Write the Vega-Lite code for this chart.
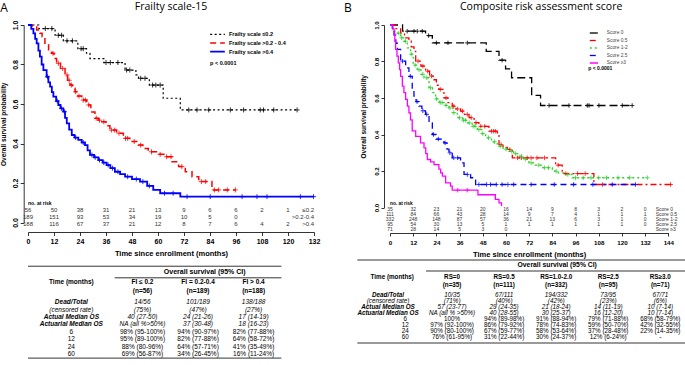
{
"$schema":"https://vega.github.io/schema/vega-lite/v6.json",
"padding":{"left":0,"top":1,"right":0,"bottom":0},
"config":{
 "font":"Liberation Sans",
 "view":{"stroke":null},
 "axis":{"grid":false,"domainColor":"#000","tickColor":"#000","labelColor":"#000","titleColor":"#000","labelFontWeight":"bold","titleFontWeight":"bold","domainWidth":0.8,"tickWidth":0.8,"labelOverlap":false,"labelFlush":false,"labelSeparation":-100},
 "title":{"font":"Open Sans","fontWeight":"normal","color":"#000"},
 "style":{"tbl":{"font":"Liberation Sans","fontSize":6.5,"baseline":"middle","align":"center"}}
},
"datasets":{
 "kmA":[
  {"g":"≤0.2","t":0,"s":1},{"g":"≤0.2","t":5,"s":0.982},{"g":"≤0.2","t":12.5,"s":0.948},{"g":"≤0.2","t":16.3,"s":0.92},{"g":"≤0.2","t":23,"s":0.88},{"g":"≤0.2","t":27,"s":0.857},{"g":"≤0.2","t":28.6,"s":0.83},{"g":"≤0.2","t":35,"s":0.81},{"g":"≤0.2","t":44.8,"s":0.772},{"g":"≤0.2","t":49.8,"s":0.747},{"g":"≤0.2","t":51,"s":0.73},{"g":"≤0.2","t":56,"s":0.696},{"g":"≤0.2","t":62.4,"s":0.629},{"g":"≤0.2","t":70.3,"s":0.57},{"g":"≤0.2","t":124.2,"s":0.57},
  {"g":">0.2-0.4","t":0,"s":1},{"g":">0.2-0.4","t":2,"s":0.99},{"g":">0.2-0.4","t":4,"s":0.975},{"g":">0.2-0.4","t":5.5,"s":0.958},{"g":">0.2-0.4","t":6.5,"s":0.94},{"g":">0.2-0.4","t":7.8,"s":0.9},{"g":">0.2-0.4","t":9.5,"s":0.875},{"g":">0.2-0.4","t":10.9,"s":0.857},{"g":">0.2-0.4","t":12,"s":0.83},{"g":">0.2-0.4","t":13.2,"s":0.806},{"g":">0.2-0.4","t":15,"s":0.78},{"g":">0.2-0.4","t":17.1,"s":0.747},{"g":">0.2-0.4","t":18.3,"s":0.72},{"g":">0.2-0.4","t":19.4,"s":0.696},{"g":">0.2-0.4","t":20.5,"s":0.68},{"g":">0.2-0.4","t":21.7,"s":0.662},{"g":">0.2-0.4","t":23,"s":0.64},{"g":">0.2-0.4","t":24.8,"s":0.62},{"g":">0.2-0.4","t":27.1,"s":0.595},{"g":">0.2-0.4","t":29,"s":0.56},{"g":">0.2-0.4","t":30.9,"s":0.528},{"g":">0.2-0.4","t":32.5,"s":0.518},{"g":">0.2-0.4","t":34,"s":0.51},{"g":">0.2-0.4","t":36,"s":0.49},{"g":">0.2-0.4","t":37.8,"s":0.468},{"g":">0.2-0.4","t":40.9,"s":0.452},{"g":">0.2-0.4","t":44,"s":0.426},{"g":">0.2-0.4","t":47,"s":0.41},{"g":">0.2-0.4","t":50.9,"s":0.392},{"g":">0.2-0.4","t":53,"s":0.375},{"g":">0.2-0.4","t":55.5,"s":0.358},{"g":">0.2-0.4","t":60,"s":0.345},{"g":">0.2-0.4","t":63.2,"s":0.333},{"g":">0.2-0.4","t":66.5,"s":0.308},{"g":">0.2-0.4","t":69.5,"s":0.283},{"g":">0.2-0.4","t":72.6,"s":0.257},{"g":">0.2-0.4","t":75.7,"s":0.232},{"g":">0.2-0.4","t":78.8,"s":0.207},{"g":">0.2-0.4","t":84.9,"s":0.165},{"g":">0.2-0.4","t":95.7,"s":0.165},
  {"g":">0.4","t":0,"s":1},{"g":">0.4","t":1.5,"s":0.98},{"g":">0.4","t":2.5,"s":0.958},{"g":">0.4","t":3.3,"s":0.93},{"g":">0.4","t":4,"s":0.907},{"g":">0.4","t":4.8,"s":0.87},{"g":">0.4","t":5.5,"s":0.84},{"g":">0.4","t":6.3,"s":0.8},{"g":">0.4","t":7.1,"s":0.772},{"g":">0.4","t":8.6,"s":0.738},{"g":">0.4","t":9.4,"s":0.71},{"g":">0.4","t":10.2,"s":0.688},{"g":">0.4","t":11,"s":0.66},{"g":">0.4","t":11.7,"s":0.637},{"g":">0.4","t":13,"s":0.615},{"g":">0.4","t":14,"s":0.595},{"g":">0.4","t":15,"s":0.578},{"g":">0.4","t":16.3,"s":0.561},{"g":">0.4","t":17.1,"s":0.53},{"g":">0.4","t":17.9,"s":0.502},{"g":">0.4","t":19,"s":0.47},{"g":">0.4","t":20.2,"s":0.443},{"g":">0.4","t":21.5,"s":0.43},{"g":">0.4","t":23.2,"s":0.418},{"g":">0.4","t":24.8,"s":0.405},{"g":">0.4","t":26.3,"s":0.392},{"g":">0.4","t":27.5,"s":0.365},{"g":">0.4","t":28.6,"s":0.342},{"g":">0.4","t":30.5,"s":0.33},{"g":">0.4","t":32.5,"s":0.316},{"g":">0.4","t":34.5,"s":0.303},{"g":">0.4","t":36.3,"s":0.291},{"g":">0.4","t":38,"s":0.275},{"g":">0.4","t":40.1,"s":0.257},{"g":">0.4","t":42.5,"s":0.245},{"g":">0.4","t":44.8,"s":0.232},{"g":">0.4","t":48,"s":0.22},{"g":">0.4","t":51.7,"s":0.207},{"g":">0.4","t":55,"s":0.185},{"g":">0.4","t":57.8,"s":0.165},{"g":">0.4","t":61,"s":0.148},{"g":">0.4","t":70.3,"s":0.131},{"g":">0.4","t":131.8,"s":0.131}
 ],
 "cenA":[
  {"g":"≤0.2","t":8,"s":0.982},{"g":"≤0.2","t":11,"s":0.982},{"g":"≤0.2","t":14,"s":0.948},{"g":"≤0.2","t":15.5,"s":0.948},{"g":"≤0.2","t":18,"s":0.92},{"g":"≤0.2","t":20.5,"s":0.92},{"g":"≤0.2","t":24.5,"s":0.88},{"g":"≤0.2","t":25.5,"s":0.88},{"g":"≤0.2","t":36,"s":0.81},{"g":"≤0.2","t":38,"s":0.81},{"g":"≤0.2","t":41.5,"s":0.81},{"g":"≤0.2","t":45.5,"s":0.772},{"g":"≤0.2","t":47,"s":0.772},{"g":"≤0.2","t":52,"s":0.73},{"g":"≤0.2","t":54,"s":0.73},{"g":"≤0.2","t":57.5,"s":0.696},{"g":"≤0.2","t":59,"s":0.696},{"g":"≤0.2","t":61,"s":0.696},{"g":"≤0.2","t":74.2,"s":0.57},{"g":"≤0.2","t":78,"s":0.57},{"g":"≤0.2","t":83.4,"s":0.57},{"g":"≤0.2","t":93.4,"s":0.57},{"g":"≤0.2","t":99.5,"s":0.57},{"g":"≤0.2","t":107.2,"s":0.57},{"g":"≤0.2","t":108.7,"s":0.57},{"g":"≤0.2","t":113.4,"s":0.57},{"g":"≤0.2","t":124.2,"s":0.57},
  {"g":">0.2-0.4","t":11.5,"s":0.857},{"g":">0.2-0.4","t":14,"s":0.806},{"g":">0.2-0.4","t":16,"s":0.78},{"g":">0.2-0.4","t":18,"s":0.747},{"g":">0.2-0.4","t":19,"s":0.72},{"g":">0.2-0.4","t":20,"s":0.696},{"g":">0.2-0.4","t":22,"s":0.662},{"g":">0.2-0.4","t":23.5,"s":0.64},{"g":">0.2-0.4","t":25.5,"s":0.62},{"g":">0.2-0.4","t":26.5,"s":0.62},{"g":">0.2-0.4","t":28,"s":0.595},{"g":">0.2-0.4","t":31.5,"s":0.528},{"g":">0.2-0.4","t":33,"s":0.518},{"g":">0.2-0.4","t":35,"s":0.51},{"g":">0.2-0.4","t":38.5,"s":0.468},{"g":">0.2-0.4","t":40,"s":0.468},{"g":">0.2-0.4","t":42,"s":0.452},{"g":">0.2-0.4","t":45,"s":0.426},{"g":">0.2-0.4","t":46,"s":0.426},{"g":">0.2-0.4","t":49,"s":0.41},{"g":">0.2-0.4","t":52,"s":0.392},{"g":">0.2-0.4","t":57,"s":0.358},{"g":">0.2-0.4","t":61,"s":0.345},{"g":">0.2-0.4","t":64,"s":0.333},{"g":">0.2-0.4","t":66,"s":0.333},{"g":">0.2-0.4","t":71,"s":0.283},{"g":">0.2-0.4","t":80,"s":0.207},{"g":">0.2-0.4","t":82,"s":0.207},{"g":">0.2-0.4","t":86,"s":0.165},{"g":">0.2-0.4","t":88,"s":0.165},{"g":">0.2-0.4","t":92,"s":0.165},{"g":">0.2-0.4","t":95.7,"s":0.165},
  {"g":">0.4","t":9,"s":0.738},{"g":">0.4","t":13.5,"s":0.615},{"g":">0.4","t":15.5,"s":0.578},{"g":">0.4","t":16.8,"s":0.561},{"g":">0.4","t":22,"s":0.43},{"g":">0.4","t":25.5,"s":0.405},{"g":">0.4","t":29.5,"s":0.342},{"g":">0.4","t":31,"s":0.33},{"g":">0.4","t":33,"s":0.316},{"g":">0.4","t":35,"s":0.303},{"g":">0.4","t":37,"s":0.291},{"g":">0.4","t":39,"s":0.275},{"g":">0.4","t":41.5,"s":0.257},{"g":">0.4","t":46,"s":0.232},{"g":">0.4","t":50,"s":0.22},{"g":">0.4","t":53,"s":0.207},{"g":">0.4","t":56,"s":0.185},{"g":">0.4","t":63,"s":0.148},{"g":">0.4","t":67,"s":0.148},{"g":">0.4","t":73.4,"s":0.131},{"g":">0.4","t":84.1,"s":0.131},{"g":">0.4","t":98.8,"s":0.131},{"g":">0.4","t":105.7,"s":0.131},{"g":">0.4","t":110.3,"s":0.131},{"g":">0.4","t":125.7,"s":0.131},{"g":">0.4","t":131.8,"s":0.131}
 ],
 "riskA":[
  {"g":"≤0.2","t":0,"n":56},{"g":"≤0.2","t":12,"n":50},{"g":"≤0.2","t":24,"n":38},{"g":"≤0.2","t":36,"n":31},{"g":"≤0.2","t":48,"n":21},{"g":"≤0.2","t":60,"n":13},{"g":"≤0.2","t":72,"n":9},{"g":"≤0.2","t":84,"n":6},{"g":"≤0.2","t":96,"n":6},{"g":"≤0.2","t":108,"n":2},{"g":"≤0.2","t":120,"n":1},
  {"g":">0.2-0.4","t":0,"n":189},{"g":">0.2-0.4","t":12,"n":151},{"g":">0.2-0.4","t":24,"n":93},{"g":">0.2-0.4","t":36,"n":53},{"g":">0.2-0.4","t":48,"n":34},{"g":">0.2-0.4","t":60,"n":19},{"g":">0.2-0.4","t":72,"n":10},{"g":">0.2-0.4","t":84,"n":5},{"g":">0.2-0.4","t":96,"n":0},
  {"g":">0.4","t":0,"n":188},{"g":">0.4","t":12,"n":116},{"g":">0.4","t":24,"n":67},{"g":">0.4","t":36,"n":37},{"g":">0.4","t":48,"n":21},{"g":">0.4","t":60,"n":12},{"g":">0.4","t":72,"n":8},{"g":">0.4","t":84,"n":7},{"g":">0.4","t":96,"n":6},{"g":">0.4","t":108,"n":4},{"g":">0.4","t":120,"n":2}
 ],
 "kmB":[
  {"g":"Score 0","t":0,"s":1},{"g":"Score 0","t":6.5,"s":0.966},{"g":"Score 0","t":18.4,"s":0.942},{"g":"Score 0","t":21.9,"s":0.902},{"g":"Score 0","t":49.8,"s":0.856},{"g":"Score 0","t":56.4,"s":0.807},{"g":"Score 0","t":59.8,"s":0.76},{"g":"Score 0","t":62.9,"s":0.711},{"g":"Score 0","t":73.3,"s":0.614},{"g":"Score 0","t":77.9,"s":0.559},{"g":"Score 0","t":125.3,"s":0.559},
  {"g":"Score 0.5","t":0,"s":1},{"g":"Score 0.5","t":3,"s":0.98},{"g":"Score 0.5","t":5.5,"s":0.955},{"g":"Score 0.5","t":7.5,"s":0.93},{"g":"Score 0.5","t":9.8,"s":0.911},{"g":"Score 0.5","t":11,"s":0.88},{"g":"Score 0.5","t":12.4,"s":0.856},{"g":"Score 0.5","t":13.3,"s":0.802},{"g":"Score 0.5","t":16,"s":0.775},{"g":"Score 0.5","t":18.4,"s":0.747},{"g":"Score 0.5","t":20.5,"s":0.72},{"g":"Score 0.5","t":22.8,"s":0.7},{"g":"Score 0.5","t":24,"s":0.67},{"g":"Score 0.5","t":25.3,"s":0.647},{"g":"Score 0.5","t":27.9,"s":0.601},{"g":"Score 0.5","t":30,"s":0.575},{"g":"Score 0.5","t":32.2,"s":0.555},{"g":"Score 0.5","t":34,"s":0.54},{"g":"Score 0.5","t":36.5,"s":0.528},{"g":"Score 0.5","t":38.5,"s":0.51},{"g":"Score 0.5","t":40.9,"s":0.492},{"g":"Score 0.5","t":43.5,"s":0.465},{"g":"Score 0.5","t":46,"s":0.445},{"g":"Score 0.5","t":51.2,"s":0.418},{"g":"Score 0.5","t":55.5,"s":0.409},{"g":"Score 0.5","t":56.4,"s":0.345},{"g":"Score 0.5","t":58.5,"s":0.33},{"g":"Score 0.5","t":60.7,"s":0.318},{"g":"Score 0.5","t":63.3,"s":0.272},{"g":"Score 0.5","t":85.7,"s":0.232},{"g":"Score 0.5","t":89.1,"s":0.186},{"g":"Score 0.5","t":105.5,"s":0.126},{"g":"Score 0.5","t":145.2,"s":0.126},
  {"g":"Score 1-2","t":0,"s":1},{"g":"Score 1-2","t":1.5,"s":0.98},{"g":"Score 1-2","t":2.5,"s":0.965},{"g":"Score 1-2","t":3.8,"s":0.955},{"g":"Score 1-2","t":5.5,"s":0.93},{"g":"Score 1-2","t":7.2,"s":0.911},{"g":"Score 1-2","t":9,"s":0.875},{"g":"Score 1-2","t":10.7,"s":0.84},{"g":"Score 1-2","t":12,"s":0.78},{"g":"Score 1-2","t":14.1,"s":0.755},{"g":"Score 1-2","t":16,"s":0.73},{"g":"Score 1-2","t":17.6,"s":0.711},{"g":"Score 1-2","t":20.2,"s":0.656},{"g":"Score 1-2","t":22,"s":0.63},{"g":"Score 1-2","t":23.6,"s":0.595},{"g":"Score 1-2","t":25.5,"s":0.575},{"g":"Score 1-2","t":28,"s":0.56},{"g":"Score 1-2","t":30.5,"s":0.546},{"g":"Score 1-2","t":32.5,"s":0.52},{"g":"Score 1-2","t":34.8,"s":0.492},{"g":"Score 1-2","t":37.5,"s":0.478},{"g":"Score 1-2","t":40,"s":0.464},{"g":"Score 1-2","t":42.5,"s":0.445},{"g":"Score 1-2","t":45.2,"s":0.427},{"g":"Score 1-2","t":47.5,"s":0.405},{"g":"Score 1-2","t":49.5,"s":0.382},{"g":"Score 1-2","t":52.5,"s":0.36},{"g":"Score 1-2","t":55.5,"s":0.336},{"g":"Score 1-2","t":58.5,"s":0.32},{"g":"Score 1-2","t":61.6,"s":0.308},{"g":"Score 1-2","t":64,"s":0.295},{"g":"Score 1-2","t":66.7,"s":0.281},{"g":"Score 1-2","t":69,"s":0.265},{"g":"Score 1-2","t":71.9,"s":0.245},{"g":"Score 1-2","t":75,"s":0.232},{"g":"Score 1-2","t":78.8,"s":0.218},{"g":"Score 1-2","t":84,"s":0.199},{"g":"Score 1-2","t":87,"s":0.19},{"g":"Score 1-2","t":90,"s":0.181},{"g":"Score 1-2","t":94.3,"s":0.163},{"g":"Score 1-2","t":133.1,"s":0.163},
  {"g":"Score 2.5","t":0,"s":1},{"g":"Score 2.5","t":1.2,"s":0.97},{"g":"Score 2.5","t":2.1,"s":0.945},{"g":"Score 2.5","t":3,"s":0.9},{"g":"Score 2.5","t":3.8,"s":0.866},{"g":"Score 2.5","t":5.5,"s":0.802},{"g":"Score 2.5","t":8.1,"s":0.765},{"g":"Score 2.5","t":9.8,"s":0.719},{"g":"Score 2.5","t":11.5,"s":0.647},{"g":"Score 2.5","t":12.4,"s":0.61},{"g":"Score 2.5","t":13.5,"s":0.58},{"g":"Score 2.5","t":15,"s":0.555},{"g":"Score 2.5","t":16.5,"s":0.53},{"g":"Score 2.5","t":18.4,"s":0.51},{"g":"Score 2.5","t":20.2,"s":0.464},{"g":"Score 2.5","t":21.9,"s":0.4},{"g":"Score 2.5","t":23.8,"s":0.375},{"g":"Score 2.5","t":26.5,"s":0.365},{"g":"Score 2.5","t":27.9,"s":0.354},{"g":"Score 2.5","t":29.5,"s":0.32},{"g":"Score 2.5","t":30.5,"s":0.3},{"g":"Score 2.5","t":32.2,"s":0.272},{"g":"Score 2.5","t":36.5,"s":0.245},{"g":"Score 2.5","t":38.3,"s":0.181},{"g":"Score 2.5","t":41.7,"s":0.163},{"g":"Score 2.5","t":44.3,"s":0.126},{"g":"Score 2.5","t":127,"s":0.126},
  {"g":"Score ≥3","t":0,"s":1},{"g":"Score ≥3","t":1.5,"s":0.977},{"g":"Score ≥3","t":2.1,"s":0.955},{"g":"Score ≥3","t":2.5,"s":0.91},{"g":"Score ≥3","t":2.9,"s":0.866},{"g":"Score ≥3","t":3.6,"s":0.83},{"g":"Score ≥3","t":4.3,"s":0.793},{"g":"Score ≥3","t":5,"s":0.755},{"g":"Score ≥3","t":5.5,"s":0.719},{"g":"Score ≥3","t":6.4,"s":0.665},{"g":"Score ≥3","t":7.2,"s":0.63},{"g":"Score ≥3","t":8.1,"s":0.592},{"g":"Score ≥3","t":9,"s":0.555},{"g":"Score ≥3","t":9.8,"s":0.519},{"g":"Score ≥3","t":10.6,"s":0.48},{"g":"Score ≥3","t":11.5,"s":0.42},{"g":"Score ≥3","t":13.3,"s":0.39},{"g":"Score ≥3","t":15.8,"s":0.354},{"g":"Score ≥3","t":17.6,"s":0.327},{"g":"Score ≥3","t":18.5,"s":0.295},{"g":"Score ≥3","t":19.3,"s":0.263},{"g":"Score ≥3","t":21,"s":0.25},{"g":"Score ≥3","t":22.8,"s":0.235},{"g":"Score ≥3","t":25.3,"s":0.21},{"g":"Score ≥3","t":26.2,"s":0.19},{"g":"Score ≥3","t":27.1,"s":0.172},{"g":"Score ≥3","t":28.8,"s":0.135},{"g":"Score ≥3","t":31.3,"s":0.117},{"g":"Score ≥3","t":32.2,"s":0.095},{"g":"Score ≥3","t":45.5,"s":0.07},{"g":"Score ≥3","t":54.5,"s":0.045},{"g":"Score ≥3","t":56.4,"s":0.025},{"g":"Score ≥3","t":57.7,"s":0.008}
 ],
 "cenB":[
  {"g":"Score 0","t":8.9,"s":0.966},{"g":"Score 0","t":12.4,"s":0.966},{"g":"Score 0","t":14.1,"s":0.966},{"g":"Score 0","t":16.7,"s":0.966},{"g":"Score 0","t":20,"s":0.942},{"g":"Score 0","t":24,"s":0.902},{"g":"Score 0","t":30,"s":0.902},{"g":"Score 0","t":40,"s":0.902},{"g":"Score 0","t":58,"s":0.807},{"g":"Score 0","t":82.3,"s":0.559},{"g":"Score 0","t":92.6,"s":0.559},{"g":"Score 0","t":102.1,"s":0.559},{"g":"Score 0","t":103,"s":0.559},{"g":"Score 0","t":108.1,"s":0.559},{"g":"Score 0","t":120.2,"s":0.559},{"g":"Score 0","t":125.3,"s":0.559},
  {"g":"Score 0.5","t":14.5,"s":0.802},{"g":"Score 0.5","t":17,"s":0.775},{"g":"Score 0.5","t":19.5,"s":0.747},{"g":"Score 0.5","t":21.5,"s":0.72},{"g":"Score 0.5","t":26,"s":0.647},{"g":"Score 0.5","t":29,"s":0.601},{"g":"Score 0.5","t":33,"s":0.555},{"g":"Score 0.5","t":35,"s":0.54},{"g":"Score 0.5","t":37.5,"s":0.528},{"g":"Score 0.5","t":40,"s":0.51},{"g":"Score 0.5","t":42,"s":0.492},{"g":"Score 0.5","t":44.5,"s":0.465},{"g":"Score 0.5","t":47,"s":0.445},{"g":"Score 0.5","t":49,"s":0.445},{"g":"Score 0.5","t":52.5,"s":0.418},{"g":"Score 0.5","t":53.5,"s":0.418},{"g":"Score 0.5","t":54.5,"s":0.418},{"g":"Score 0.5","t":57.5,"s":0.345},{"g":"Score 0.5","t":62,"s":0.318},{"g":"Score 0.5","t":66,"s":0.272},{"g":"Score 0.5","t":68,"s":0.272},{"g":"Score 0.5","t":71,"s":0.272},{"g":"Score 0.5","t":73,"s":0.272},{"g":"Score 0.5","t":76,"s":0.272},{"g":"Score 0.5","t":80,"s":0.272},{"g":"Score 0.5","t":87,"s":0.232},{"g":"Score 0.5","t":91,"s":0.186},{"g":"Score 0.5","t":97,"s":0.186},{"g":"Score 0.5","t":101,"s":0.186},{"g":"Score 0.5","t":110,"s":0.126},{"g":"Score 0.5","t":145.2,"s":0.126},
  {"g":"Score 1-2","t":4.5,"s":0.955},{"g":"Score 1-2","t":6,"s":0.93},{"g":"Score 1-2","t":8,"s":0.911},{"g":"Score 1-2","t":11,"s":0.84},{"g":"Score 1-2","t":13,"s":0.78},{"g":"Score 1-2","t":15,"s":0.755},{"g":"Score 1-2","t":17,"s":0.73},{"g":"Score 1-2","t":19,"s":0.711},{"g":"Score 1-2","t":21,"s":0.656},{"g":"Score 1-2","t":24,"s":0.595},{"g":"Score 1-2","t":26,"s":0.575},{"g":"Score 1-2","t":27,"s":0.575},{"g":"Score 1-2","t":29,"s":0.56},{"g":"Score 1-2","t":31,"s":0.546},{"g":"Score 1-2","t":33,"s":0.52},{"g":"Score 1-2","t":36,"s":0.492},{"g":"Score 1-2","t":38,"s":0.478},{"g":"Score 1-2","t":39,"s":0.478},{"g":"Score 1-2","t":41,"s":0.464},{"g":"Score 1-2","t":43,"s":0.445},{"g":"Score 1-2","t":44,"s":0.445},{"g":"Score 1-2","t":46,"s":0.427},{"g":"Score 1-2","t":48,"s":0.405},{"g":"Score 1-2","t":51,"s":0.382},{"g":"Score 1-2","t":54,"s":0.36},{"g":"Score 1-2","t":57,"s":0.336},{"g":"Score 1-2","t":60,"s":0.32},{"g":"Score 1-2","t":63,"s":0.308},{"g":"Score 1-2","t":65,"s":0.295},{"g":"Score 1-2","t":68,"s":0.281},{"g":"Score 1-2","t":70,"s":0.265},{"g":"Score 1-2","t":73,"s":0.245},{"g":"Score 1-2","t":77,"s":0.232},{"g":"Score 1-2","t":80,"s":0.218},{"g":"Score 1-2","t":82,"s":0.218},{"g":"Score 1-2","t":86,"s":0.199},{"g":"Score 1-2","t":92,"s":0.181},{"g":"Score 1-2","t":96,"s":0.163},{"g":"Score 1-2","t":100,"s":0.163},{"g":"Score 1-2","t":104,"s":0.163},{"g":"Score 1-2","t":108,"s":0.163},{"g":"Score 1-2","t":112,"s":0.163},{"g":"Score 1-2","t":118,"s":0.163},{"g":"Score 1-2","t":124,"s":0.163},{"g":"Score 1-2","t":133.1,"s":0.163},
  {"g":"Score 2.5","t":6.5,"s":0.802},{"g":"Score 2.5","t":10.5,"s":0.719},{"g":"Score 2.5","t":14,"s":0.58},{"g":"Score 2.5","t":17,"s":0.53},{"g":"Score 2.5","t":19,"s":0.51},{"g":"Score 2.5","t":22.5,"s":0.4},{"g":"Score 2.5","t":25,"s":0.375},{"g":"Score 2.5","t":28.5,"s":0.354},{"g":"Score 2.5","t":31,"s":0.3},{"g":"Score 2.5","t":33,"s":0.272},{"g":"Score 2.5","t":35,"s":0.272},{"g":"Score 2.5","t":40,"s":0.181},{"g":"Score 2.5","t":46,"s":0.126},{"g":"Score 2.5","t":50,"s":0.126},{"g":"Score 2.5","t":52,"s":0.126},{"g":"Score 2.5","t":55,"s":0.126},{"g":"Score 2.5","t":58,"s":0.126},{"g":"Score 2.5","t":61,"s":0.126},{"g":"Score 2.5","t":64,"s":0.126},{"g":"Score 2.5","t":73,"s":0.126},{"g":"Score 2.5","t":85,"s":0.126},{"g":"Score 2.5","t":95,"s":0.126},{"g":"Score 2.5","t":105,"s":0.126},{"g":"Score 2.5","t":115,"s":0.126},{"g":"Score 2.5","t":127,"s":0.126},
  {"g":"Score ≥3","t":35,"s":0.095},{"g":"Score ≥3","t":40,"s":0.095}
 ],
 "riskB":[
  {"g":"Score 0","t":0,"n":35},{"g":"Score 0","t":12,"n":32},{"g":"Score 0","t":24,"n":23},{"g":"Score 0","t":36,"n":21},{"g":"Score 0","t":48,"n":20},{"g":"Score 0","t":60,"n":16},{"g":"Score 0","t":72,"n":14},{"g":"Score 0","t":84,"n":9},{"g":"Score 0","t":96,"n":8},{"g":"Score 0","t":108,"n":3},{"g":"Score 0","t":120,"n":2},{"g":"Score 0","t":132,"n":0},
  {"g":"Score 0.5","t":0,"n":111},{"g":"Score 0.5","t":12,"n":84},{"g":"Score 0.5","t":24,"n":66},{"g":"Score 0.5","t":36,"n":43},{"g":"Score 0.5","t":48,"n":28},{"g":"Score 0.5","t":60,"n":14},{"g":"Score 0.5","t":72,"n":9},{"g":"Score 0.5","t":84,"n":7},{"g":"Score 0.5","t":96,"n":4},{"g":"Score 0.5","t":108,"n":1},{"g":"Score 0.5","t":120,"n":1},{"g":"Score 0.5","t":132,"n":1},
  {"g":"Score 1-2","t":0,"n":332},{"g":"Score 1-2","t":12,"n":248},{"g":"Score 1-2","t":24,"n":148},{"g":"Score 1-2","t":36,"n":87},{"g":"Score 1-2","t":48,"n":57},{"g":"Score 1-2","t":60,"n":36},{"g":"Score 1-2","t":72,"n":21},{"g":"Score 1-2","t":84,"n":13},{"g":"Score 1-2","t":96,"n":6},{"g":"Score 1-2","t":108,"n":3},{"g":"Score 1-2","t":120,"n":1},{"g":"Score 1-2","t":132,"n":0},
  {"g":"Score 2.5","t":0,"n":95},{"g":"Score 2.5","t":12,"n":54},{"g":"Score 2.5","t":24,"n":30},{"g":"Score 2.5","t":36,"n":13},{"g":"Score 2.5","t":48,"n":5},{"g":"Score 2.5","t":60,"n":1},{"g":"Score 2.5","t":72,"n":1},{"g":"Score 2.5","t":84,"n":1},{"g":"Score 2.5","t":96,"n":1},{"g":"Score 2.5","t":108,"n":1},{"g":"Score 2.5","t":120,"n":1},{"g":"Score 2.5","t":132,"n":0},
  {"g":"Score ≥3","t":0,"n":71},{"g":"Score ≥3","t":12,"n":28},{"g":"Score ≥3","t":24,"n":14},{"g":"Score ≥3","t":36,"n":5},{"g":"Score ≥3","t":48,"n":3},{"g":"Score ≥3","t":60,"n":0}
 ],
 "tabA":[
  {"row":"title","col":"g2","text":"Overall survival (95% CI)","kind":"title"},
  {"row":"hdr","col":"time","text":"Time (months)","kind":"head"},
  {"row":"hdr","col":"g1","text":"FI ≤ 0.2\n(n=56)","kind":"head"},
  {"row":"hdr","col":"g2","text":"FI = 0.2-0.4\n(n=189)","kind":"head"},
  {"row":"hdr","col":"g3","text":"FI > 0.4\n(n=188)","kind":"head"},
  {"row":"r1","col":"time","text":"Dead/Total","kind":"bi"},
  {"row":"r1","col":"g1","text":"14/56","kind":"it"},{"row":"r1","col":"g2","text":"101/189","kind":"it"},{"row":"r1","col":"g3","text":"138/188","kind":"it"},
  {"row":"r2","col":"time","text":"(censored rate)","kind":"it"},
  {"row":"r2","col":"g1","text":"(75%)","kind":"it"},{"row":"r2","col":"g2","text":"(47%)","kind":"it"},{"row":"r2","col":"g3","text":"(27%)","kind":"it"},
  {"row":"r3","col":"time","text":"Actual Median OS","kind":"bi"},
  {"row":"r3","col":"g1","text":"40 (27-50)","kind":"it"},{"row":"r3","col":"g2","text":"24 (21-26)","kind":"it"},{"row":"r3","col":"g3","text":"17 (14-19)","kind":"it"},
  {"row":"r4","col":"time","text":"Actuarial Median OS","kind":"bi"},
  {"row":"r4","col":"g1","text":"NA (all %>50%)","kind":"it"},{"row":"r4","col":"g2","text":"37 (30-48)","kind":"it"},{"row":"r4","col":"g3","text":"18 (16-23)","kind":"it"},
  {"row":"r5","col":"time","text":"6","kind":"plain"},
  {"row":"r5","col":"g1","text":"98% (95-100%)","kind":"plain"},{"row":"r5","col":"g2","text":"94% (90-97%)","kind":"plain"},{"row":"r5","col":"g3","text":"82% (77-88%)","kind":"plain"},
  {"row":"r6","col":"time","text":"12","kind":"plain"},
  {"row":"r6","col":"g1","text":"95% (89-100%)","kind":"plain"},{"row":"r6","col":"g2","text":"82% (77-88%)","kind":"plain"},{"row":"r6","col":"g3","text":"64% (58-72%)","kind":"plain"},
  {"row":"r7","col":"time","text":"24","kind":"plain"},
  {"row":"r7","col":"g1","text":"88% (80-96%)","kind":"plain"},{"row":"r7","col":"g2","text":"64% (57-71%)","kind":"plain"},{"row":"r7","col":"g3","text":"41% (35-49%)","kind":"plain"},
  {"row":"r8","col":"time","text":"60","kind":"plain"},
  {"row":"r8","col":"g1","text":"69% (56-87%)","kind":"plain"},{"row":"r8","col":"g2","text":"34% (26-45%)","kind":"plain"},{"row":"r8","col":"g3","text":"16% (11-24%)","kind":"plain"}
 ],
 "rulesA":[{"row":"s0","edge":"top"},{"row":"s1","edge":"mid","c1":"g1","c2":"g3"},{"row":"r8","edge":"bottom"}],
 "tabB":[
  {"row":"title","col":"g3","text":"Overall survival (95% CI)","kind":"title"},
  {"row":"hdr","col":"time","text":"Time (months)","kind":"head"},
  {"row":"hdr","col":"g1","text":"RS=0\n(n=35)","kind":"head"},
  {"row":"hdr","col":"g2","text":"RS=0.5\n(n=111)","kind":"head"},
  {"row":"hdr","col":"g3","text":"RS=1.0-2.0\n(n=332)","kind":"head"},
  {"row":"hdr","col":"g4","text":"RS=2.5\n(n=95)","kind":"head"},
  {"row":"hdr","col":"g5","text":"RS≥3.0\n(n=71)","kind":"head"},
  {"row":"r1","col":"time","text":"Dead/Total","kind":"bi"},
  {"row":"r1","col":"g1","text":"10/35","kind":"it"},{"row":"r1","col":"g2","text":"67/111","kind":"it"},{"row":"r1","col":"g3","text":"194/332","kind":"it"},{"row":"r1","col":"g4","text":"73/95","kind":"it"},{"row":"r1","col":"g5","text":"67/71","kind":"it"},
  {"row":"r2","col":"time","text":"(censored rate)","kind":"it"},
  {"row":"r2","col":"g1","text":"(71%)","kind":"it"},{"row":"r2","col":"g2","text":"(40%)","kind":"it"},{"row":"r2","col":"g3","text":"(42%)","kind":"it"},{"row":"r2","col":"g4","text":"(23%)","kind":"it"},{"row":"r2","col":"g5","text":"(6%)","kind":"it"},
  {"row":"r3","col":"time","text":"Actual Median OS","kind":"bi"},
  {"row":"r3","col":"g1","text":"57 (23-77)","kind":"it"},{"row":"r3","col":"g2","text":"29 (24-35)","kind":"it"},{"row":"r3","col":"g3","text":"21 (18-24)","kind":"it"},{"row":"r3","col":"g4","text":"14 (11-19)","kind":"it"},{"row":"r3","col":"g5","text":"10 (7-14)","kind":"it"},
  {"row":"r4","col":"time","text":"Actuarial Median OS","kind":"bi"},
  {"row":"r4","col":"g1","text":"NA (all % >50%)","kind":"it"},{"row":"r4","col":"g2","text":"40 (28-55)","kind":"it"},{"row":"r4","col":"g3","text":"30 (25-37)","kind":"it"},{"row":"r4","col":"g4","text":"16 (12-20)","kind":"it"},{"row":"r4","col":"g5","text":"10 (7-14)","kind":"it"},
  {"row":"r5","col":"time","text":"6","kind":"plain"},
  {"row":"r5","col":"g1","text":"100%","kind":"plain"},{"row":"r5","col":"g2","text":"94% (89-98%)","kind":"plain"},{"row":"r5","col":"g3","text":"91% (88-94%)","kind":"plain"},{"row":"r5","col":"g4","text":"79% (71-88%)","kind":"plain"},{"row":"r5","col":"g5","text":"68% (58-79%)","kind":"plain"},
  {"row":"r6","col":"time","text":"12","kind":"plain"},
  {"row":"r6","col":"g1","text":"97% (92-100%)","kind":"plain"},{"row":"r6","col":"g2","text":"86% (79-92%)","kind":"plain"},{"row":"r6","col":"g3","text":"78% (74-83%)","kind":"plain"},{"row":"r6","col":"g4","text":"59% (50-70%)","kind":"plain"},{"row":"r6","col":"g5","text":"42% (32-55%)","kind":"plain"},
  {"row":"r7","col":"time","text":"24","kind":"plain"},
  {"row":"r7","col":"g1","text":"90% (80-100%)","kind":"plain"},{"row":"r7","col":"g2","text":"67% (59-77%)","kind":"plain"},{"row":"r7","col":"g3","text":"58% (53-64%)","kind":"plain"},{"row":"r7","col":"g4","text":"37% (28-48%)","kind":"plain"},{"row":"r7","col":"g5","text":"22% (14-35%)","kind":"plain"},
  {"row":"r8","col":"time","text":"60","kind":"plain"},
  {"row":"r8","col":"g1","text":"76% (61-95%)","kind":"plain"},{"row":"r8","col":"g2","text":"31% (22-44%)","kind":"plain"},{"row":"r8","col":"g3","text":"30% (24-37%)","kind":"plain"},{"row":"r8","col":"g4","text":"12% (6-24%)","kind":"plain"},{"row":"r8","col":"g5","text":"-","kind":"plain"}
 ],
 "rulesB":[{"row":"title","edge":"top","c1":"time","c2":"g5"},{"row":"s1","edge":"mid","c1":"g1","c2":"g5"},{"row":"r8","edge":"bottom","c1":"time","c2":"g5"}]
},
"spacing":23,
"resolve":{"scale":{"color":"independent","strokeDash":"independent","strokeWidth":"independent","x":"independent"}},
"hconcat":[
 {
  "title":{"text":"A","anchor":"start","fontSize":12,"offset":0,"dy":13},
  "spacing":4,
  "vconcat":[
   {
    "width":286,"height":197.5,
    "title":{"text":"Frailty scale-15","fontSize":10.5,"offset":8,"anchor":"middle"},
    "layer":[
     {"layer":[
      {"data":{"name":"kmA"},"mark":{"type":"line","interpolate":"step-after"},
       "encoding":{
        "x":{"field":"t","type":"quantitative","scale":{"domain":[0,132],"nice":false,"zero":false},
             "axis":{"values":[0,12,24,36,48,60,72,84,96,108,120,132],"format":"d","labelOverlap":false,"labelSeparation":-100,"labelFlush":false,"labelFontSize":7,"labelPadding":2,"tickSize":3.5,"offset":9.5,"title":"Time since enrollment (months)","titleFontSize":7.5,"titlePadding":5}},
        "y":{"field":"s","type":"quantitative","scale":{"domain":[0,1],"nice":false},
             "axis":{"values":[0,0.2,0.4,0.6,0.8,1],"format":".1f","labelOverlap":false,"labelSeparation":-100,"labelFlush":false,"labelAngle":-90,"labelFontSize":7,"labelPadding":2,"tickSize":3.5,"offset":4.3,"title":"Overall survival probability","titleFontSize":6.5,"titlePadding":5}},
        "color":{"field":"g","type":"nominal","scale":{"domain":["≤0.2",">0.2-0.4",">0.4"],"range":["#000000","#ff0000","#0000ff"]},
             "legend":{"title":null,"orient":"none","direction":"vertical","legendX":185,"legendY":4.8,"symbolType":"M-2.1,0H2.1","symbolSize":49,"symbolStrokeWidth":1.5,"symbolFillColor":"transparent","labelFontSize":5.5,"labelFontWeight":"bold","labelOffset":7,"rowPadding":0.7,"padding":0,"labelExpr":"'Frailty scale ' + (datum.label == '>0.2-0.4' ? '>0.2 - 0.4' : datum.label)"}},
        "strokeDash":{"field":"g","type":"nominal","scale":{"domain":["≤0.2",">0.2-0.4",">0.4"],"range":[[2,2.5],[6,4],[1,0]]},
             "legend":{"title":null,"orient":"none","direction":"vertical","legendX":185,"legendY":4.8,"symbolType":"M-2.1,0H2.1","symbolSize":49,"symbolStrokeWidth":1.5,"symbolFillColor":"transparent","labelFontSize":5.5,"labelFontWeight":"bold","labelOffset":7,"rowPadding":0.7,"padding":0,"labelExpr":"'Frailty scale ' + (datum.label == '>0.2-0.4' ? '>0.2 - 0.4' : datum.label)"}},
        "strokeWidth":{"field":"g","type":"nominal","scale":{"domain":["≤0.2",">0.2-0.4",">0.4"],"range":[1.2,1.8,1.3]},"legend":null}
       }},
      {"data":{"name":"cenA"},"mark":{"type":"point","shape":"M-1,0H1M0,-1V1","filled":false,"size":25,"strokeWidth":0.8,"opacity":1},
       "encoding":{
        "x":{"field":"t","type":"quantitative","axis":{"values":[0,12,24,36,48,60,72,84,96,108,120,132],"format":"d","labelOverlap":false,"labelSeparation":-100,"labelFlush":false,"labelFontSize":7,"labelPadding":2,"tickSize":3.5,"offset":9.5,"title":"Time since enrollment (months)","titleFontSize":7.5,"titlePadding":5}},
        "y":{"field":"s","type":"quantitative","axis":{"values":[0,0.2,0.4,0.6,0.8,1],"format":".1f","labelOverlap":false,"labelSeparation":-100,"labelFlush":false,"labelAngle":-90,"labelFontSize":7,"labelPadding":2,"tickSize":3.5,"offset":4.3,"title":"Overall survival probability","titleFontSize":6.5,"titlePadding":5}},
        "color":{"field":"g","type":"nominal","legend":null}}},
      {"data":{"values":[{"p":"p < 0.0001"}]},"mark":{"type":"text","align":"left","baseline":"middle","fontSize":5.5,"fontWeight":"bold"},
       "encoding":{
        "x":{"datum":84,"type":"quantitative","axis":{"values":[0,12,24,36,48,60,72,84,96,108,120,132],"format":"d","labelOverlap":false,"labelSeparation":-100,"labelFlush":false,"labelFontSize":7,"labelPadding":2,"tickSize":3.5,"offset":9.5,"title":"Time since enrollment (months)","titleFontSize":7.5,"titlePadding":5}},
        "y":{"datum":0.808,"type":"quantitative","axis":{"values":[0,0.2,0.4,0.6,0.8,1],"format":".1f","labelOverlap":false,"labelSeparation":-100,"labelFlush":false,"labelAngle":-90,"labelFontSize":7,"labelPadding":2,"tickSize":3.5,"offset":4.3,"title":"Overall survival probability","titleFontSize":6.5,"titlePadding":5}},
        "text":{"field":"p"}}}
     ]},
     {"layer":[
      {"data":{"name":"riskA"},"mark":{"type":"text","fontSize":6,"color":"#333","baseline":"middle"},
       "encoding":{"x":{"field":"t","type":"quantitative","axis":{"values":[0,12,24,36,48,60,72,84,96,108,120,132],"format":"d","labelOverlap":false,"labelSeparation":-100,"labelFlush":false,"labelFontSize":7,"labelPadding":2,"tickSize":3.5,"offset":9.5,"title":"Time since enrollment (months)","titleFontSize":7.5,"titlePadding":5}},
        "y":{"field":"g","type":"ordinal","scale":{"type":"point","domain":["hdr","≤0.2",">0.2-0.4",">0.4"],"range":[177.7,199.3],"padding":0},"axis":null},"text":{"field":"n"}}},
      {"data":{"name":"riskA"},"transform":[{"filter":"datum.t == 0"}],"mark":{"type":"text","fontSize":6,"color":"#333","align":"right","baseline":"middle"},
       "encoding":{"x":{"datum":132,"type":"quantitative","axis":{"values":[0,12,24,36,48,60,72,84,96,108,120,132],"format":"d","labelOverlap":false,"labelSeparation":-100,"labelFlush":false,"labelFontSize":7,"labelPadding":2,"tickSize":3.5,"offset":9.5,"title":"Time since enrollment (months)","titleFontSize":7.5,"titlePadding":5}},"y":{"field":"g","type":"ordinal","axis":null},"text":{"field":"g"}}},
      {"data":{"values":[{"h":"no. at risk"}]},"mark":{"type":"text","fontSize":5,"fontWeight":"bold","align":"left","baseline":"middle"},
       "encoding":{"x":{"datum":0,"type":"quantitative","axis":{"values":[0,12,24,36,48,60,72,84,96,108,120,132],"format":"d","labelOverlap":false,"labelSeparation":-100,"labelFlush":false,"labelFontSize":7,"labelPadding":2,"tickSize":3.5,"offset":9.5,"title":"Time since enrollment (months)","titleFontSize":7.5,"titlePadding":5}},"y":{"datum":"hdr","type":"ordinal","axis":null},"text":{"field":"h"}}}
     ]}
    ],
    "resolve":{"scale":{"y":"independent"}}
   },
   {
    "width":253.4,"height":97.1,
    "data":{"name":"tabA"},
    "layer":[
     {"data":{"name":"rulesA"},"transform":[{"filter":"datum.edge == 'top'"}],"mark":{"type":"rule","strokeWidth":0.8,"color":"#000"},
      "encoding":{"y":{"field":"row","type":"nominal","bandPosition":0.7,"scale":{"type":"band","domain":["s0","title","s1","hdr","s2","r1","r2","r3","r4","r5","r6","r7","r8"],"paddingInner":0,"paddingOuter":0},"axis":null}}},
     {"data":{"name":"rulesA"},"transform":[{"filter":"datum.edge == 'mid'"}],"mark":{"type":"rule","strokeWidth":0.8,"color":"#000"},
      "encoding":{"y":{"field":"row","type":"nominal","bandPosition":0.25,"axis":null},
        "x":{"field":"c1","type":"nominal","bandPosition":0,"scale":{"type":"band","domain":["time","g1","g2","g3"],"paddingInner":0,"paddingOuter":0.28,"align":1},"axis":null},
        "x2":{"field":"c2","bandPosition":1}}},
     {"data":{"name":"rulesA"},"transform":[{"filter":"datum.edge == 'bottom'"}],"mark":{"type":"rule","strokeWidth":0.8,"color":"#000"},
      "encoding":{"y":{"field":"row","type":"nominal","bandPosition":1,"axis":null}}},
     {"transform":[{"filter":"datum.kind == 'title'"}],"mark":{"type":"text","style":"tbl","fontWeight":"bold","fontSize":7},
      "encoding":{"x":{"field":"col","type":"nominal","bandPosition":0.62,"axis":null},"y":{"field":"row","type":"nominal","bandPosition":0.5,"axis":null},"text":{"field":"text"}}},
     {"transform":[{"filter":"datum.kind == 'head' && datum.col != 'time'"}],"mark":{"type":"text","style":"tbl","fontWeight":"bold","lineBreak":"\n","lineHeight":9,"dy":-4.9},
      "encoding":{"x":{"field":"col","type":"nominal","bandPosition":0.5,"axis":null},"y":{"field":"row","type":"nominal","bandPosition":0.5,"axis":null},"text":{"field":"text"}}},
     {"transform":[{"filter":"datum.kind == 'head' && datum.col == 'time'"}],"mark":{"type":"text","style":"tbl","fontWeight":"bold","dy":-4.9},
      "encoding":{"x":{"field":"col","type":"nominal","bandPosition":0.22,"axis":null},"y":{"field":"row","type":"nominal","bandPosition":0.5,"axis":null},"text":{"field":"text"}}},
     {"transform":[{"filter":"datum.kind == 'bi'"}],"mark":{"type":"text","style":"tbl","fontWeight":"bold","fontStyle":"italic"},
      "encoding":{"x":{"field":"col","type":"nominal","bandPosition":0.22,"axis":null},"y":{"field":"row","type":"nominal","bandPosition":0.5,"axis":null},"text":{"field":"text"}}},
     {"transform":[{"filter":"datum.kind == 'it' && datum.col == 'time'"}],"mark":{"type":"text","style":"tbl","fontStyle":"italic"},
      "encoding":{"x":{"field":"col","type":"nominal","bandPosition":0.22,"axis":null},"y":{"field":"row","type":"nominal","bandPosition":0.5,"axis":null},"text":{"field":"text"}}},
     {"transform":[{"filter":"datum.kind == 'it' && datum.col != 'time'"}],"mark":{"type":"text","style":"tbl","fontStyle":"italic"},
      "encoding":{"x":{"field":"col","type":"nominal","bandPosition":0.5,"axis":null},"y":{"field":"row","type":"nominal","bandPosition":0.5,"axis":null},"text":{"field":"text"}}},
     {"transform":[{"filter":"datum.kind == 'plain' && datum.col == 'time'"}],"mark":{"type":"text","style":"tbl"},
      "encoding":{"x":{"field":"col","type":"nominal","bandPosition":0.22,"axis":null},"y":{"field":"row","type":"nominal","bandPosition":0.5,"axis":null},"text":{"field":"text"}}},
     {"transform":[{"filter":"datum.kind == 'plain' && datum.col != 'time'"}],"mark":{"type":"text","style":"tbl"},
      "encoding":{"x":{"field":"col","type":"nominal","bandPosition":0.5,"axis":null},"y":{"field":"row","type":"nominal","bandPosition":0.5,"axis":null},"text":{"field":"text"}}}
    ]
   }
  ]
 },
 {
  "title":{"text":"B","anchor":"start","fontSize":12,"offset":0,"dy":13,"dx":-13},
  "spacing":1,
  "vconcat":[
   {
    "width":278.3,"height":182.5,
    "title":{"text":"Composite risk assessment score","fontSize":10.5,"offset":8,"anchor":"middle","dx":12},
    "layer":[
     {"layer":[
      {"data":{"name":"kmB"},"mark":{"type":"line","interpolate":"step-after"},
       "encoding":{
        "x":{"field":"t","type":"quantitative","scale":{"domain":[0,144],"nice":false,"zero":false},
             "axis":{"values":[0,12,24,36,48,60,72,84,96,108,120,132,144],"format":"d","labelOverlap":false,"labelSeparation":-100,"labelFlush":false,"labelFontSize":6.2,"labelPadding":3.5,"tickSize":3,"offset":25.5,"title":"Time since enrollment (months)","titleFontSize":7.5,"titlePadding":4.5}},
        "y":{"field":"s","type":"quantitative","scale":{"domain":[0,1],"nice":false},
             "axis":{"values":[0,0.2,0.4,0.6,0.8,1],"format":".1f","labelOverlap":false,"labelSeparation":-100,"labelFlush":false,"labelAngle":-90,"labelFontSize":6.2,"labelPadding":2,"tickSize":3,"offset":6,"title":"Overall survival probability","titleFontSize":6.5,"titlePadding":7}},
        "color":{"field":"g","type":"nominal","scale":{"domain":["Score 0","Score 0.5","Score 1-2","Score 2.5","Score ≥3"],"range":["#000000","#ff0000","#2fd12f","#0000ff","#ff00ff"]},
             "legend":{"title":null,"orient":"none","direction":"vertical","legendX":200.4,"legendY":4.5,"symbolType":"M-1.5,0H1.5","symbolSize":30,"symbolStrokeWidth":1.5,"symbolFillColor":"transparent","labelFontSize":4.8,"labelColor":"#444","labelOffset":9.4,"rowPadding":0.5,"padding":0}},
        "strokeDash":{"field":"g","type":"nominal","scale":{"domain":["Score 0","Score 0.5","Score 1-2","Score 2.5","Score ≥3"],"range":[[8,4],[6,3,2,3],[2,3],[6,4],[1,0]]},
             "legend":{"title":null,"orient":"none","direction":"vertical","legendX":200.4,"legendY":4.5,"symbolType":"M-1.5,0H1.5","symbolSize":30,"symbolStrokeWidth":1.5,"symbolFillColor":"transparent","labelFontSize":4.8,"labelColor":"#444","labelOffset":9.4,"rowPadding":0.5,"padding":0}},
        "strokeWidth":{"field":"g","type":"nominal","scale":{"domain":["Score 0","Score 0.5","Score 1-2","Score 2.5","Score ≥3"],"range":[1.3,1.3,2,1.5,1.8]},"legend":null}
       }},
      {"data":{"name":"cenB"},"mark":{"type":"point","shape":"M-1,0H1M0,-1V1","filled":false,"size":20,"strokeWidth":0.8,"opacity":1},
       "encoding":{
        "x":{"field":"t","type":"quantitative","axis":{"values":[0,12,24,36,48,60,72,84,96,108,120,132,144],"format":"d","labelOverlap":false,"labelSeparation":-100,"labelFlush":false,"labelFontSize":6.2,"labelPadding":3.5,"tickSize":3,"offset":25.5,"title":"Time since enrollment (months)","titleFontSize":7.5,"titlePadding":4.5}},
        "y":{"field":"s","type":"quantitative","axis":{"values":[0,0.2,0.4,0.6,0.8,1],"format":".1f","labelOverlap":false,"labelSeparation":-100,"labelFlush":false,"labelAngle":-90,"labelFontSize":6.2,"labelPadding":2,"tickSize":3,"offset":6,"title":"Overall survival probability","titleFontSize":6.5,"titlePadding":7}},
        "color":{"field":"g","type":"nominal","legend":null}}},
      {"data":{"values":[{"p":"p < 0.0001"}]},"mark":{"type":"text","align":"left","baseline":"middle","fontSize":5,"fontWeight":"bold"},
       "encoding":{
        "x":{"datum":102.6,"type":"quantitative","axis":{"values":[0,12,24,36,48,60,72,84,96,108,120,132,144],"format":"d","labelOverlap":false,"labelSeparation":-100,"labelFlush":false,"labelFontSize":6.2,"labelPadding":3.5,"tickSize":3,"offset":25.5,"title":"Time since enrollment (months)","titleFontSize":7.5,"titlePadding":4.5}},
        "y":{"datum":0.765,"type":"quantitative","axis":{"values":[0,0.2,0.4,0.6,0.8,1],"format":".1f","labelOverlap":false,"labelSeparation":-100,"labelFlush":false,"labelAngle":-90,"labelFontSize":6.2,"labelPadding":2,"tickSize":3,"offset":6,"title":"Overall survival probability","titleFontSize":6.5,"titlePadding":7}},
        "text":{"field":"p"}}}
     ]},
     {"layer":[
      {"data":{"name":"riskB"},"mark":{"type":"text","fontSize":5,"color":"#333","baseline":"middle"},
       "encoding":{"x":{"field":"t","type":"quantitative","axis":{"values":[0,12,24,36,48,60,72,84,96,108,120,132,144],"format":"d","labelOverlap":false,"labelSeparation":-100,"labelFlush":false,"labelFontSize":6.2,"labelPadding":3.5,"tickSize":3,"offset":25.5,"title":"Time since enrollment (months)","titleFontSize":7.5,"titlePadding":4.5}},
        "y":{"field":"g","type":"ordinal","scale":{"type":"point","domain":["hdr","Score 0","Score 0.5","Score 1-2","Score 2.5","Score ≥3"],"range":[179,203.7],"padding":0},"axis":null},"text":{"field":"n"}}},
      {"data":{"name":"riskB"},"transform":[{"filter":"datum.t == 0"}],"mark":{"type":"text","fontSize":5,"color":"#333","align":"left","baseline":"middle"},
       "encoding":{"x":{"datum":137.5,"type":"quantitative","axis":{"values":[0,12,24,36,48,60,72,84,96,108,120,132,144],"format":"d","labelOverlap":false,"labelSeparation":-100,"labelFlush":false,"labelFontSize":6.2,"labelPadding":3.5,"tickSize":3,"offset":25.5,"title":"Time since enrollment (months)","titleFontSize":7.5,"titlePadding":4.5}},"y":{"field":"g","type":"ordinal","axis":null},"text":{"field":"g"}}},
      {"data":{"values":[{"h":"no. at risk"}]},"mark":{"type":"text","fontSize":4.8,"fontWeight":"bold","align":"left","baseline":"middle"},
       "encoding":{"x":{"datum":0,"type":"quantitative","axis":{"values":[0,12,24,36,48,60,72,84,96,108,120,132,144],"format":"d","labelOverlap":false,"labelSeparation":-100,"labelFlush":false,"labelFontSize":6.2,"labelPadding":3.5,"tickSize":3,"offset":25.5,"title":"Time since enrollment (months)","titleFontSize":7.5,"titlePadding":4.5}},"y":{"datum":"hdr","type":"ordinal","axis":null},"text":{"field":"h"}}}
     ]}
    ],
    "resolve":{"scale":{"y":"independent"}}
   },
   {
    "width":296.3,"height":78,
    "data":{"name":"tabB"},
    "layer":[
     {"data":{"name":"rulesB"},"transform":[{"filter":"datum.edge == 'top'"}],"mark":{"type":"rule","strokeWidth":0.8,"color":"#000","xOffset":-16.7,"yOffset":-2},
      "encoding":{"y":{"field":"row","type":"nominal","bandPosition":0,"scale":{"type":"band","domain":["title","s1","s2","hdr","s3","r1","r2","r3","r4","r5","r6","r7","r8"],"paddingInner":0,"paddingOuter":0},"axis":null},
        "x":{"field":"c1","type":"nominal","bandPosition":0,"scale":{"type":"band","domain":["time","g1","g2","g3","g4","g5"],"range":[-16,296.3],"paddingInner":0,"paddingOuter":0},"axis":null},
        "x2":{"field":"c2","bandPosition":1}}},
     {"data":{"name":"rulesB"},"transform":[{"filter":"datum.edge == 'mid'"}],"mark":{"type":"rule","strokeWidth":0.8,"color":"#000"},
      "encoding":{"y":{"field":"row","type":"nominal","bandPosition":0.5,"axis":null},
        "x":{"field":"c1","type":"nominal","bandPosition":0,"axis":null},
        "x2":{"field":"c2","bandPosition":1}}},
     {"data":{"name":"rulesB"},"transform":[{"filter":"datum.edge == 'bottom'"}],"mark":{"type":"rule","strokeWidth":0.8,"color":"#000","xOffset":-16.7,"yOffset":3},
      "encoding":{"y":{"field":"row","type":"nominal","bandPosition":1,"axis":null},
        "x":{"field":"c1","type":"nominal","bandPosition":0,"axis":null},
        "x2":{"field":"c2","bandPosition":1}}},
     {"transform":[{"filter":"datum.kind == 'title'"}],"mark":{"type":"text","style":"tbl","fontWeight":"bold","fontSize":6.8},
      "encoding":{"x":{"field":"col","type":"nominal","bandPosition":0.52,"axis":null},"y":{"field":"row","type":"nominal","bandPosition":0.5,"axis":null},"text":{"field":"text"}}},
     {"transform":[{"filter":"datum.kind == 'head' && datum.col != 'time'"}],"mark":{"type":"text","style":"tbl","fontWeight":"bold","fontSize":6.3,"lineBreak":"\n","lineHeight":8.3,"dy":-6.3},
      "encoding":{"x":{"field":"col","type":"nominal","bandPosition":0.5,"axis":null},"y":{"field":"row","type":"nominal","bandPosition":0.5,"axis":null},"text":{"field":"text"}}},
     {"transform":[{"filter":"datum.kind == 'head' && datum.col == 'time'"}],"mark":{"type":"text","style":"tbl","fontWeight":"bold","fontSize":6.3,"dy":-6.3},
      "encoding":{"x":{"field":"col","type":"nominal","bandPosition":0.35,"axis":null},"y":{"field":"row","type":"nominal","bandPosition":0.5,"axis":null},"text":{"field":"text"}}},
     {"transform":[{"filter":"datum.kind == 'bi'"}],"mark":{"type":"text","style":"tbl","fontWeight":"bold","fontStyle":"italic","fontSize":6.3},
      "encoding":{"x":{"field":"col","type":"nominal","bandPosition":0.27,"axis":null},"y":{"field":"row","type":"nominal","bandPosition":0.5,"axis":null},"text":{"field":"text"}}},
     {"transform":[{"filter":"datum.kind == 'it' && datum.col == 'time'"}],"mark":{"type":"text","style":"tbl","fontStyle":"italic","fontSize":6.3},
      "encoding":{"x":{"field":"col","type":"nominal","bandPosition":0.27,"axis":null},"y":{"field":"row","type":"nominal","bandPosition":0.5,"axis":null},"text":{"field":"text"}}},
     {"transform":[{"filter":"datum.kind == 'it' && datum.col != 'time'"}],"mark":{"type":"text","style":"tbl","fontStyle":"italic","fontSize":6.3},
      "encoding":{"x":{"field":"col","type":"nominal","bandPosition":0.5,"axis":null},"y":{"field":"row","type":"nominal","bandPosition":0.5,"axis":null},"text":{"field":"text"}}},
     {"transform":[{"filter":"datum.kind == 'plain' && datum.col == 'time'"}],"mark":{"type":"text","style":"tbl","fontSize":6.3},
      "encoding":{"x":{"field":"col","type":"nominal","bandPosition":0.6,"axis":null},"y":{"field":"row","type":"nominal","bandPosition":0.5,"axis":null},"text":{"field":"text"}}},
     {"transform":[{"filter":"datum.kind == 'plain' && datum.col != 'time'"}],"mark":{"type":"text","style":"tbl","fontSize":6.3},
      "encoding":{"x":{"field":"col","type":"nominal","bandPosition":0.5,"axis":null},"y":{"field":"row","type":"nominal","bandPosition":0.5,"axis":null},"text":{"field":"text"}}}
    ]
   }
  ]
 }
]
}
